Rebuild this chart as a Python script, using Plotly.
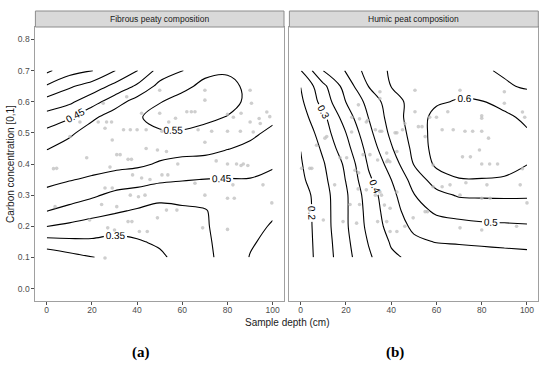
import plotly.graph_objects as go

# ---------------- data ----------------
depth_grid = [0, 10, 20, 30, 40, 50, 60, 70, 80, 90, 100]
conc_grid = [0.10, 0.15, 0.20, 0.25, 0.30, 0.35, 0.40, 0.45, 0.50, 0.55, 0.60, 0.65, 0.70]

# estimated carbon-concentration surface, fibrous peat (rows = conc_grid, cols = depth_grid)
fibrous_z = [
    [0.262, 0.283, 0.298, 0.315, 0.325, 0.340, 0.370, 0.390, 0.415, 0.452, 0.470],
    [0.332, 0.339, 0.342, 0.335, 0.345, 0.358, 0.375, 0.392, 0.418, 0.445, 0.462],
    [0.401, 0.390, 0.380, 0.370, 0.370, 0.370, 0.380, 0.395, 0.420, 0.440, 0.453],
    [0.452, 0.436, 0.419, 0.407, 0.395, 0.385, 0.390, 0.397, 0.422, 0.437, 0.445],
    [0.485, 0.472, 0.458, 0.438, 0.430, 0.415, 0.420, 0.420, 0.432, 0.440, 0.435],
    [0.515, 0.503, 0.493, 0.480, 0.470, 0.460, 0.453, 0.449, 0.448, 0.448, 0.440],
    [0.530, 0.530, 0.520, 0.515, 0.510, 0.495, 0.487, 0.485, 0.475, 0.470, 0.455],
    [0.497, 0.520, 0.535, 0.535, 0.530, 0.520, 0.515, 0.512, 0.502, 0.490, 0.475],
    [0.463, 0.490, 0.525, 0.545, 0.545, 0.545, 0.545, 0.537, 0.525, 0.510, 0.490],
    [0.419, 0.445, 0.490, 0.525, 0.545, 0.565, 0.570, 0.560, 0.548, 0.530, 0.510],
    [0.370, 0.390, 0.430, 0.477, 0.520, 0.548, 0.565, 0.575, 0.565, 0.540, 0.520],
    [0.305, 0.343, 0.372, 0.413, 0.458, 0.515, 0.540, 0.560, 0.562, 0.540, 0.525],
    [0.240, 0.280, 0.298, 0.348, 0.398, 0.470, 0.498, 0.540, 0.545, 0.535, 0.525],
]

# estimated carbon-concentration surface, humic peat
humic_z = [
    [0.171, 0.223, 0.283, 0.342, 0.392, 0.410, 0.420, 0.425, 0.430, 0.435, 0.440],
    [0.172, 0.225, 0.288, 0.353, 0.405, 0.440, 0.452, 0.455, 0.458, 0.460, 0.460],
    [0.172, 0.228, 0.293, 0.363, 0.420, 0.460, 0.475, 0.485, 0.490, 0.492, 0.495],
    [0.173, 0.229, 0.293, 0.368, 0.429, 0.477, 0.510, 0.518, 0.525, 0.528, 0.530],
    [0.175, 0.231, 0.293, 0.375, 0.435, 0.498, 0.535, 0.555, 0.556, 0.556, 0.555],
    [0.190, 0.238, 0.302, 0.391, 0.450, 0.519, 0.575, 0.598, 0.598, 0.596, 0.585],
    [0.196, 0.246, 0.310, 0.406, 0.470, 0.552, 0.610, 0.620, 0.625, 0.615, 0.601],
    [0.201, 0.259, 0.332, 0.419, 0.495, 0.562, 0.620, 0.635, 0.640, 0.630, 0.615],
    [0.210, 0.275, 0.350, 0.436, 0.511, 0.569, 0.620, 0.630, 0.635, 0.625, 0.605],
    [0.230, 0.288, 0.375, 0.451, 0.521, 0.574, 0.615, 0.625, 0.625, 0.610, 0.590],
    [0.240, 0.320, 0.401, 0.465, 0.529, 0.567, 0.594, 0.604, 0.602, 0.585, 0.570],
    [0.251, 0.338, 0.421, 0.501, 0.551, 0.565, 0.580, 0.585, 0.575, 0.555, 0.545],
    [0.298, 0.401, 0.453, 0.522, 0.556, 0.565, 0.570, 0.565, 0.555, 0.545, 0.535],
]

# observed samples (depth cm, carbon concentration)
fibrous_depth = [25, 14.7, 22.8, 26.5, 28.7, 34, 37, 40, 44, 25.8, 42, 10.3, 29, 17.7, 31, 32.5,
                 36, 37.5, 44, 28, 3, 35.4, 50, 70, 90, 97.4, 91.4, 86, 94, 70, 90.6, 98.7, 50,
                 62, 64, 65.6, 54, 57, 80, 82.6, 90, 94.5, 67, 73, 80, 85.7, 51, 49, 53, 70,
                 75, 86, 89, 4.4, 25.8, 29, 38, 42, 45.7, 37, 40.6, 43.5, 24.3, 31, 36, 37.7,
                 27, 30, 41, 44.5, 19, 3.7, 58, 80, 84, 87, 51, 53.6, 65.6, 82.4, 95.7, 70,
                 80, 83, 99.6, 53, 57.6, 49, 69, 80, 25.8]
fibrous_conc = [0.595, 0.535, 0.535, 0.535, 0.535, 0.51, 0.51, 0.51, 0.51, 0.515, 0.563, 0.488,
                0.477, 0.42, 0.43, 0.43, 0.415, 0.415, 0.45, 0.39, 0.385, 0.616, 0.637, 0.637,
                0.637, 0.567, 0.503, 0.563, 0.546, 0.605, 0.595, 0.552, 0.563, 0.568, 0.568,
                0.568, 0.535, 0.547, 0.56, 0.55, 0.535, 0.53, 0.51, 0.505, 0.505, 0.505, 0.505,
                0.445, 0.44, 0.47, 0.41, 0.395, 0.395, 0.386, 0.323, 0.323, 0.365, 0.355, 0.35,
                0.30, 0.295, 0.30, 0.27, 0.263, 0.215, 0.215, 0.195, 0.188, 0.183, 0.183, 0.22,
                0.263, 0.40, 0.40, 0.40, 0.40, 0.365, 0.365, 0.338, 0.333, 0.333, 0.30, 0.29,
                0.29, 0.275, 0.252, 0.252, 0.227, 0.195, 0.19, 0.098]

humic_depth = [35, 35, 50.5, 70.4, 90, 50.5, 57, 60, 80, 80, 98, 99, 62.5, 67.4, 72.6, 76, 80,
               52, 53.6, 55, 83, 79, 71.5, 75, 80, 83.5, 87, 58.5, 98, 27.6, 30.6, 38, 24, 38,
               39.4, 7, 11.5, 4.9, 25.5, 22.6, 26, 29.6, 35, 35.8, 41.7, 42.5, 46, 29, 33, 45,
               10.7, 22.5, 17.4, 20.3, 34, 38.5, 42.5, 0.4, 4, 15, 25.6, 25.4, 29, 35, 42.5,
               33, 35.7, 21.8, 26, 37, 39.5, 4, 18.7, 24.7, 34, 38, 39.5, 42.5, 46, 10, 58.5,
               62.5, 66, 73, 82.3, 97, 70.4, 80, 83.7, 100, 55, 56, 70.4, 80, 95.4, 49.7, 65, 90]
humic_conc = [0.632, 0.61, 0.637, 0.637, 0.632, 0.568, 0.55, 0.55, 0.555, 0.547, 0.567, 0.55,
              0.51, 0.51, 0.505, 0.505, 0.505, 0.52, 0.52, 0.488, 0.483, 0.445, 0.423, 0.423,
              0.40, 0.40, 0.40, 0.397, 0.385, 0.43, 0.43, 0.435, 0.38, 0.407, 0.407, 0.46,
              0.488, 0.386, 0.59, 0.55, 0.545, 0.54, 0.505, 0.505, 0.50, 0.50, 0.53, 0.535,
              0.51, 0.51, 0.483, 0.503, 0.42, 0.42, 0.413, 0.413, 0.44, 0.386, 0.386, 0.333,
              0.372, 0.32, 0.317, 0.31, 0.31, 0.30, 0.30, 0.27, 0.27, 0.268, 0.258, 0.252,
              0.215, 0.21, 0.215, 0.215, 0.183, 0.183, 0.20, 0.22, 0.327, 0.327, 0.333, 0.34,
              0.333, 0.333, 0.30, 0.29, 0.29, 0.275, 0.247, 0.247, 0.195, 0.188, 0.20, 0.227,
              0.568, 0.595]

panel_titles = ["Fibrous peaty composition", "Humic peat composition"]
depth_ticks = [0, 20, 40, 60, 80, 100]
conc_ticks = [0.0, 0.1, 0.2, 0.3, 0.4, 0.5, 0.6, 0.7, 0.8]

# ---------------- figure ----------------
W, H = 550, 366
BLACK = [[0, "black"], [1, "black"]]
SANS = "Liberation Sans, Arial, sans-serif"
LABEL_FONT = dict(family=SANS, size=10, color="black")


def contour(z, start, end, size, labels, xa, ya):
    return go.Contour(
        x=depth_grid, y=conc_grid, z=z, xaxis=xa, yaxis=ya,
        contours=dict(coloring="lines", start=start, end=end, size=size,
                      showlabels=labels, labelfont=LABEL_FONT),
        colorscale=BLACK, showscale=False, line=dict(width=1.1),
        hoverinfo="skip",
    )


def points(xs, ys, xa, ya):
    return go.Scatter(x=xs, y=ys, mode="markers", xaxis=xa, yaxis=ya,
                      marker=dict(size=3.6, color="#BEBEBE", opacity=0.75),
                      hoverinfo="skip", showlegend=False)


fig = go.Figure()
fig.add_trace(points(fibrous_depth, fibrous_conc, "x", "y"))
fig.add_trace(points(humic_depth, humic_conc, "x2", "y2"))
# fibrous panel: labelled 0.35/0.45/0.55, unlabelled intermediate levels
fig.add_trace(contour(fibrous_z, 0.35, 0.56, 0.1, True, "x", "y"))
fig.add_trace(contour(fibrous_z, 0.30, 0.51, 0.1, False, "x", "y"))
fig.add_trace(contour(fibrous_z, 0.25, 0.26, 0.5, False, "x", "y"))
# humic panel: labelled 0.2..0.6, unlabelled intermediate levels
fig.add_trace(contour(humic_z, 0.20, 0.61, 0.1, True, "x2", "y2"))
fig.add_trace(contour(humic_z, 0.25, 0.56, 0.1, False, "x2", "y2"))

xa_dom = [35.4 / W, 284 / W]
xb_dom = [289.4 / W, 538.3 / W]
y_dom = [(H - 301) / H, (H - 27) / H]

TICKFONT = dict(family=SANS, size=8.5, color="#4D4D4D")
axis_common = dict(showgrid=False, zeroline=False, showline=True, linecolor="#A0A0A0",
                   linewidth=1, mirror=True, ticks="outside", ticklen=3,
                   tickcolor="#4D4D4D", tickwidth=0.8, tickfont=TICKFONT, automargin=False)

fig.update_layout(
    width=W, height=H, margin=dict(l=0, r=0, t=0, b=0, autoexpand=False),
    paper_bgcolor="white", plot_bgcolor="white", showlegend=False,
    xaxis=dict(domain=xa_dom, range=[-5, 105], tickvals=depth_ticks, anchor="y",
               ticklabelstandoff=-2, **axis_common),
    xaxis2=dict(domain=xb_dom, range=[-5, 105], tickvals=depth_ticks, anchor="y2",
                ticklabelstandoff=-2, **axis_common),
    yaxis=dict(domain=y_dom, range=[-0.04, 0.84], tickvals=conc_ticks, tickformat=".1f",
               anchor="x", **axis_common),
    yaxis2=dict(domain=y_dom, range=[-0.04, 0.84], tickvals=conc_ticks, anchor="x2",
                showticklabels=False, **{**axis_common, "ticks": ""}),
)

strip_y0 = (H - 27) / H
strip_y1 = (H - 11) / H
for dom, title in zip([xa_dom, xb_dom], panel_titles):
    fig.add_shape(type="rect", xref="paper", yref="paper", x0=dom[0], x1=dom[1],
                  y0=strip_y0, y1=strip_y1, fillcolor="#D9D9D9",
                  line=dict(color="#8C8C8C", width=1), layer="above")
    fig.add_annotation(x=(dom[0] + dom[1]) / 2, y=(strip_y0 + strip_y1) / 2, xref="paper",
                       yref="paper", xanchor="center", yanchor="middle", text=title,
                       showarrow=False, font=dict(family=SANS, size=8.5, color="#1A1A1A"))

fig.add_annotation(x=287 / W, y=(H - 322) / H, xref="paper", yref="paper",
                   xanchor="center", yanchor="middle", text="Sample depth (cm)",
                   showarrow=False, font=dict(family=SANS, size=10, color="#1A1A1A"))
fig.add_annotation(x=10 / W, y=(H - 164) / H, xref="paper", yref="paper",
                   xanchor="center", yanchor="middle", text="Carbon concentration [0,1]",
                   showarrow=False, textangle=-90,
                   font=dict(family=SANS, size=10, color="#1A1A1A"))
for xpx, lab in [(141, "(a)"), (395, "(b)")]:
    fig.add_annotation(x=xpx / W, y=(H - 352) / H, xref="paper", yref="paper",
                       text="<b>" + lab + "</b>",
                       xanchor="center", yanchor="middle", showarrow=False,
                       font=dict(family="Liberation Serif, DejaVu Serif, serif", size=15,
                                 color="black"))

fig.write_html("out.html", config={"displayModeBar": False},
               post_script="document.body.style.margin='0';document.body.style.padding='0';")
